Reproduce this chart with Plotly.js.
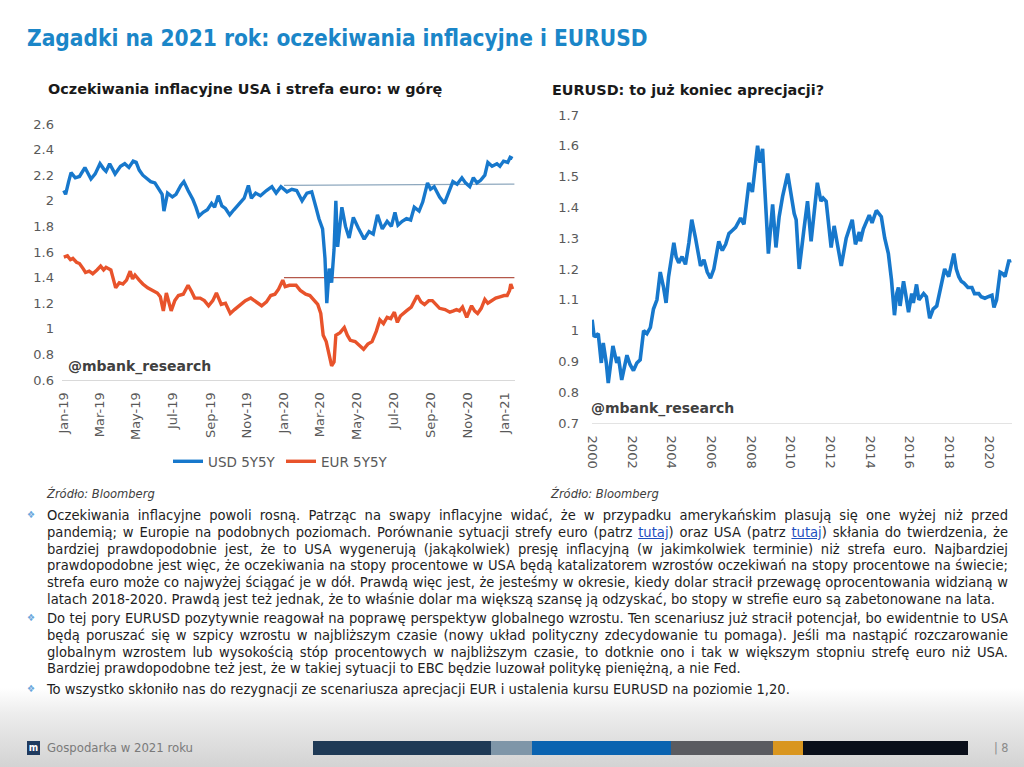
<!DOCTYPE html>
<html><head><meta charset="utf-8">
<script src="https://cdn.plot.ly/plotly-3.0.1.min.js"></script>
<style>
html,body{margin:0;padding:0;}
body{width:1024px;height:767px;position:relative;overflow:hidden;
 background:linear-gradient(to bottom,#ffffff 0px,#ffffff 688px,#ececec 715px,#d3d3d3 767px);
 font-family:"DejaVu Sans Condensed","DejaVu Sans",sans-serif;}
#chart{position:absolute;left:0;top:0;width:1024px;height:767px;}
.title{position:absolute;left:27px;top:25px;font-size:22.5px;font-weight:bold;color:#1b86c8;white-space:nowrap;}
.src{position:absolute;top:486px;font-size:12.8px;font-style:italic;color:#404040;}
.para{position:absolute;left:47px;width:961px;font-size:14.6px;line-height:16.8px;color:#1e1e1e;}
.para div{text-align:justify;text-align-last:justify;white-space:nowrap;}
.para div.last{text-align-last:left;}
.para a{color:#1f4fbf;text-decoration:underline;}
.bullet{position:absolute;left:27px;font-size:10px;color:#6aa6dc;}
.foot{position:absolute;top:740px;left:47px;font-size:13px;color:#7a7a7a;}
.logo{position:absolute;left:27px;top:741px;width:13px;height:14px;background:#1f3a5f;color:#fff;font-size:10px;font-weight:bold;line-height:13px;text-align:center;}
.seg{position:absolute;top:741px;height:14px;}
.pg{position:absolute;top:740px;left:994px;font-size:12.5px;color:#8a8a8a;}
</style>
</head><body>
<div id="chart"></div>
<div class="title">Zagadki na 2021 rok: oczekiwania inflacyjne i EURUSD</div>
<div class="src" style="left:47px;">Źródło: Bloomberg</div>
<div class="src" style="left:551px;">Źródło: Bloomberg</div>

<div class="bullet" style="top:509px;">❖</div>
<div class="para" style="top:507px;">
<div>Oczekiwania inflacyjne powoli rosną. Patrząc na swapy inflacyjne widać, że w przypadku amerykańskim plasują się one wyżej niż przed</div>
<div>pandemią; w Europie na podobnych poziomach. Porównanie sytuacji strefy euro (patrz <a>tutaj</a>) oraz USA (patrz <a>tutaj</a>) skłania do twierdzenia, że</div>
<div>bardziej prawdopodobnie jest, że to USA wygenerują (jakąkolwiek) presję inflacyjną (w jakimkolwiek terminie) niż strefa euro. Najbardziej</div>
<div>prawdopodobne jest więc, że oczekiwania na stopy procentowe w USA będą katalizatorem wzrostów oczekiwań na stopy procentowe na świecie;</div>
<div>strefa euro może co najwyżej ściągać je w dół. Prawdą więc jest, że jesteśmy w okresie, kiedy dolar stracił przewagę oprocentowania widzianą w</div>
<div class="last">latach 2018-2020. Prawdą jest też jednak, że to właśnie dolar ma większą szansę ją odzyskać, bo stopy w strefie euro są zabetonowane na lata.</div>
</div>
<div class="bullet" style="top:612px;">❖</div>
<div class="para" style="top:610px;">
<div>Do tej pory EURUSD pozytywnie reagował na poprawę perspektyw globalnego wzrostu. Ten scenariusz już stracił potencjał, bo ewidentnie to USA</div>
<div>będą poruszać się w szpicy wzrostu w najbliższym czasie (nowy układ polityczny zdecydowanie tu pomaga). Jeśli ma nastąpić rozczarowanie</div>
<div>globalnym wzrostem lub wysokością stóp procentowych w najbliższym czasie, to dotknie ono i tak w większym stopniu strefę euro niż USA.</div>
<div class="last">Bardziej prawdopodobne też jest, że w takiej sytuacji to EBC będzie luzował politykę pieniężną, a nie Fed.</div>
</div>
<div class="bullet" style="top:683px;">❖</div>
<div class="para" style="top:681px;">
<div class="last">To wszystko skłoniło nas do rezygnacji ze scenariusza aprecjacji EUR i ustalenia kursu EURUSD na poziomie 1,20.</div>
</div>

<div class="logo">m</div>
<div class="foot">Gospodarka w 2021 roku</div>
<div class="seg" style="left:313px;width:178px;background:#1f3a56;"></div>
<div class="seg" style="left:491px;width:41px;background:#7f96a8;"></div>
<div class="seg" style="left:532px;width:139px;background:#0a63b0;"></div>
<div class="seg" style="left:671px;width:102px;background:#5a5b60;"></div>
<div class="seg" style="left:773px;width:30px;background:#d9961f;"></div>
<div class="seg" style="left:803px;width:165px;background:#0a0f1a;"></div>
<div class="pg">| 8</div>

<script>
// ---- Left chart: inflation expectations 5Y5Y ----
const usdDates = ["2019-01-01","2019-01-04","2019-01-09","2019-01-13","2019-01-20","2019-01-27","2019-02-05","2019-02-10","2019-02-15","2019-02-22","2019-03-02","2019-03-08","2019-03-12","2019-03-18","2019-03-27","2019-04-05","2019-04-12","2019-04-19","2019-04-26","2019-05-01","2019-05-06","2019-05-12","2019-05-17","2019-05-25","2019-06-01","2019-06-08","2019-06-13","2019-06-16","2019-06-22","2019-06-30","2019-07-06","2019-07-14","2019-07-19","2019-07-26","2019-08-03","2019-08-08","2019-08-13","2019-08-20","2019-08-27","2019-09-03","2019-09-08","2019-09-14","2019-09-20","2019-09-26","2019-10-03","2019-10-10","2019-10-19","2019-10-27","2019-11-03","2019-11-08","2019-11-15","2019-11-23","2019-12-03","2019-12-12","2019-12-19","2019-12-27","2020-01-06","2020-01-14","2020-01-22","2020-01-31","2020-02-08","2020-02-16","2020-02-23","2020-02-28","2020-03-05","2020-03-09","2020-03-12","2020-03-16","2020-03-20","2020-03-24","2020-03-27","2020-03-30","2020-04-06","2020-04-12","2020-04-18","2020-04-25","2020-05-03","2020-05-13","2020-05-21","2020-05-28","2020-06-04","2020-06-12","2020-06-20","2020-06-27","2020-07-03","2020-07-08","2020-07-15","2020-07-22","2020-07-29","2020-08-04","2020-08-12","2020-08-18","2020-08-26","2020-08-31","2020-09-06","2020-09-15","2020-09-23","2020-10-01","2020-10-07","2020-10-14","2020-10-22","2020-10-28","2020-11-04","2020-11-10","2020-11-16","2020-11-22","2020-11-29","2020-12-04","2020-12-11","2020-12-19","2020-12-24","2020-12-30","2021-01-06","2021-01-10","2021-01-14"];
const usdValues = [2.08,2.05,2.15,2.22,2.18,2.19,2.26,2.22,2.17,2.21,2.29,2.25,2.23,2.29,2.21,2.27,2.29,2.26,2.31,2.30,2.24,2.20,2.18,2.15,2.14,2.09,2.05,1.92,2.06,2.03,2.05,2.12,2.15,2.08,2.01,1.95,1.88,1.91,1.93,1.98,1.95,2.04,1.96,1.94,1.89,1.93,1.98,2.02,2.12,2.02,2.06,2.04,2.08,2.11,2.06,2.11,2.07,2.09,2.08,2.00,2.06,2.07,1.95,1.86,1.78,1.55,1.20,1.47,1.36,1.62,2.00,1.64,1.95,1.80,1.71,1.87,1.79,1.70,1.76,1.74,1.89,1.78,1.84,1.80,1.91,1.81,1.84,1.86,1.85,1.95,1.92,1.99,2.14,2.09,2.11,2.03,1.98,2.07,2.15,2.13,2.18,2.14,2.11,2.18,2.14,2.16,2.20,2.30,2.27,2.29,2.27,2.31,2.30,2.34,2.33];

const eurDates = ["2019-01-01","2019-01-07","2019-01-12","2019-01-16","2019-01-22","2019-01-27","2019-02-02","2019-02-06","2019-02-12","2019-02-18","2019-02-25","2019-03-03","2019-03-08","2019-03-12","2019-03-20","2019-03-24","2019-03-28","2019-04-03","2019-04-09","2019-04-15","2019-04-21","2019-04-25","2019-04-29","2019-05-06","2019-05-12","2019-05-20","2019-05-29","2019-06-05","2019-06-10","2019-06-15","2019-06-20","2019-06-24","2019-06-28","2019-07-04","2019-07-10","2019-07-18","2019-07-26","2019-08-01","2019-08-06","2019-08-15","2019-08-22","2019-08-29","2019-09-05","2019-09-11","2019-09-19","2019-09-26","2019-10-04","2019-10-11","2019-10-21","2019-10-29","2019-11-07","2019-11-15","2019-11-25","2019-12-03","2019-12-10","2019-12-17","2019-12-23","2019-12-30","2020-01-03","2020-01-10","2020-01-21","2020-01-28","2020-02-06","2020-02-13","2020-02-20","2020-02-26","2020-03-02","2020-03-06","2020-03-11","2020-03-16","2020-03-20","2020-03-24","2020-03-27","2020-04-03","2020-04-10","2020-04-15","2020-04-20","2020-04-28","2020-05-06","2020-05-12","2020-05-19","2020-05-26","2020-06-02","2020-06-08","2020-06-14","2020-06-20","2020-06-26","2020-07-02","2020-07-07","2020-07-12","2020-07-22","2020-07-30","2020-08-09","2020-08-15","2020-08-21","2020-08-28","2020-09-03","2020-09-10","2020-09-15","2020-09-24","2020-10-02","2020-10-08","2020-10-13","2020-10-18","2020-10-23","2020-10-30","2020-11-07","2020-11-12","2020-11-17","2020-11-23","2020-11-29","2020-12-04","2020-12-11","2020-12-17","2020-12-24","2020-12-31","2021-01-05","2021-01-09","2021-01-11","2021-01-14"];
const eurValues = [1.56,1.57,1.54,1.55,1.52,1.51,1.47,1.44,1.45,1.43,1.46,1.49,1.46,1.48,1.46,1.40,1.32,1.36,1.35,1.38,1.45,1.39,1.42,1.38,1.35,1.32,1.30,1.28,1.25,1.14,1.28,1.20,1.14,1.22,1.26,1.27,1.34,1.29,1.24,1.24,1.22,1.18,1.22,1.28,1.19,1.20,1.12,1.15,1.19,1.22,1.24,1.21,1.18,1.21,1.26,1.27,1.31,1.38,1.33,1.34,1.34,1.30,1.27,1.26,1.22,1.19,1.12,0.95,0.90,0.80,0.71,0.74,0.95,0.97,1.01,0.95,0.91,0.90,0.87,0.84,0.88,0.90,0.98,1.07,1.04,1.09,1.08,1.13,1.05,1.10,1.14,1.17,1.26,1.21,1.19,1.22,1.22,1.19,1.16,1.15,1.13,1.14,1.15,1.14,1.17,1.09,1.18,1.14,1.12,1.16,1.23,1.20,1.22,1.24,1.25,1.26,1.26,1.30,1.35,1.31];

// Pre-pandemic reference levels (Jan 2020)
const usdRefDates = ["2020-01-01","2021-01-17"];
const usdRefValues = [2.12,2.13];
const eurRefDates = ["2020-01-01","2021-01-17"];
const eurRefValues = [1.40,1.40];

const leftSeriesNames = ["USD 5Y5Y","EUR 5Y5Y"];

// ---- Right chart: EURUSD ----
const fxDates = ["2000-01-03","2000-02-10","2000-04-25","2000-06-20","2000-07-26","2000-09-20","2000-10-26","2001-01-20","2001-04-01","2001-04-30","2001-07-01","2001-10-05","2001-12-01","2002-02-02","2002-04-05","2002-06-05","2002-08-08","2002-10-08","2002-12-10","2003-02-05","2003-04-10","2003-06-10","2003-08-10","2003-09-25","2003-11-10","2004-02-15","2004-03-28","2004-05-15","2004-07-15","2004-09-16","2004-11-18","2005-01-10","2005-03-20","2005-06-20","2005-08-22","2005-10-22","2005-12-20","2006-02-20","2006-05-22","2006-07-26","2006-09-25","2006-11-25","2007-01-26","2007-03-28","2007-06-28","2007-08-28","2007-11-28","2008-01-30","2008-05-05","2008-06-18","2008-08-05","2008-11-20","2009-02-06","2009-04-08","2009-06-06","2009-08-08","2009-11-10","2010-01-12","2010-03-10","2010-04-15","2010-06-10","2010-09-06","2010-11-10","2011-01-15","2011-05-10","2011-07-15","2011-08-25","2011-10-19","2012-01-19","2012-03-14","2012-05-10","2012-07-23","2012-10-22","2013-02-10","2013-04-10","2013-06-20","2013-07-10","2013-09-02","2013-12-20","2014-02-10","2014-04-30","2014-07-30","2014-10-01","2014-12-07","2015-02-02","2015-03-29","2015-05-10","2015-06-10","2015-07-10","2015-09-12","2015-10-20","2015-12-13","2016-02-10","2016-03-10","2016-05-08","2016-06-20","2016-09-16","2016-11-05","2017-01-05","2017-03-10","2017-05-15","2017-07-08","2017-10-08","2017-12-21","2018-03-26","2018-05-10","2018-06-25","2018-08-10","2018-09-24","2018-12-10","2019-02-21","2019-04-10","2019-06-28","2019-08-10","2019-10-19","2019-12-20","2020-02-25","2020-04-02","2020-05-20","2020-07-24","2020-09-10","2020-10-23","2020-12-10","2021-01-06","2021-01-22"];
const fxValues = [1.035,0.98,0.99,0.895,0.96,0.895,0.83,0.95,0.895,0.915,0.84,0.92,0.89,0.87,0.895,0.905,1.00,0.99,1.01,1.07,1.10,1.19,1.14,1.09,1.175,1.285,1.24,1.22,1.24,1.215,1.285,1.36,1.30,1.21,1.23,1.19,1.17,1.20,1.29,1.26,1.28,1.315,1.325,1.335,1.365,1.345,1.48,1.45,1.60,1.545,1.59,1.25,1.41,1.27,1.37,1.435,1.51,1.435,1.38,1.36,1.20,1.33,1.42,1.29,1.48,1.42,1.43,1.42,1.27,1.34,1.28,1.21,1.30,1.36,1.28,1.32,1.29,1.33,1.375,1.35,1.39,1.37,1.30,1.25,1.165,1.05,1.12,1.14,1.08,1.16,1.12,1.06,1.12,1.09,1.15,1.10,1.12,1.11,1.04,1.07,1.08,1.13,1.20,1.175,1.25,1.20,1.175,1.16,1.155,1.14,1.14,1.12,1.12,1.11,1.105,1.11,1.115,1.075,1.10,1.19,1.185,1.175,1.21,1.23,1.22];

const leftTicks = ["2019-01-01","2019-03-01","2019-05-01","2019-07-01","2019-09-01","2019-11-01","2020-01-01","2020-03-01","2020-05-01","2020-07-01","2020-09-01","2020-11-01","2021-01-01"];
const leftTickText = ["Jan-19","Mar-19","May-19","Jul-19","Sep-19","Nov-19","Jan-20","Mar-20","May-20","Jul-20","Sep-20","Nov-20","Jan-21"];

const BLUE = "#1778cc", RED = "#e8532b", GREY = "#595959";
const W = 1024, H = 767;
const px = p => p / W, py = p => 1 - p / H;
const tickFont = {family:"DejaVu Sans, sans-serif", size:13, color:GREY};

const traces = [
  {x:usdRefDates, y:usdRefValues, xaxis:"x", yaxis:"y", mode:"lines", line:{color:"#8ea8be", width:1.2}, showlegend:false, hoverinfo:"skip"},
  {x:eurRefDates, y:eurRefValues, xaxis:"x", yaxis:"y", mode:"lines", line:{color:"#b4584a", width:1.2}, showlegend:false, hoverinfo:"skip"},
  {x:usdDates, y:usdValues, name:leftSeriesNames[0], xaxis:"x", yaxis:"y", mode:"lines", line:{color:BLUE, width:3.4}},
  {x:eurDates, y:eurValues, name:leftSeriesNames[1], xaxis:"x", yaxis:"y", mode:"lines", line:{color:RED, width:3.4}},
  {x:fxDates, y:fxValues, name:"EURUSD", xaxis:"x2", yaxis:"y2", mode:"lines", line:{color:BLUE, width:3.6}, showlegend:false}
];

const layout = {
  width:W, height:H, margin:{l:0,r:0,t:0,b:0},
  paper_bgcolor:"rgba(0,0,0,0)", plot_bgcolor:"rgba(0,0,0,0)",
  font:{family:"DejaVu Sans, sans-serif", color:GREY},
  showlegend:true,
  legend:{orientation:"h", x:px(168), y:py(446), xanchor:"left", yanchor:"top",
          font:{family:"DejaVu Sans, sans-serif", size:13.5, color:GREY},
          bgcolor:"rgba(0,0,0,0)", entrywidth:68, itemwidth:30},
  xaxis:{domain:[px(62),px(515)], type:"date", range:["2018-12-29","2021-01-18"],
         tickmode:"array", tickvals:leftTicks, ticktext:leftTickText, tickangle:-90,
         tickfont:tickFont, showgrid:false, zeroline:false, showline:true, linecolor:"#d9d9d9", linewidth:1,
         ticks:"", ticklabelstandoff:6, anchor:"y"},
  yaxis:{domain:[py(380),py(124)], range:[0.6,2.6], dtick:0.2, tick0:0.6,
         tickfont:tickFont, showgrid:false, zeroline:false, showline:false, ticks:"", ticklabelstandoff:7, anchor:"x"},
  xaxis2:{domain:[px(592),px(1012)], type:"date", range:["2000-01-01","2021-02-28"],
          dtick:"M24", tick0:"2000-01-01", tickformat:"%Y", tickangle:90,
          tickfont:tickFont, showgrid:false, zeroline:false, showline:true, linecolor:"#e3e3e3", linewidth:1,
          ticks:"", ticklabelstandoff:9, anchor:"y2"},
  yaxis2:{domain:[py(423),py(115)], range:[0.7,1.7], dtick:0.1, tick0:0.7,
          tickfont:tickFont, showgrid:false, zeroline:false, showline:false, ticks:"", ticklabelstandoff:12, anchor:"x2"},
  annotations:[
    {xref:"paper", yref:"paper", x:px(46), y:py(89), xanchor:"left", yanchor:"middle", showarrow:false,
     text:"<b>Oczekiwania inflacyjne USA i strefa euro: w górę</b>", font:{family:"DejaVu Sans, sans-serif", size:14.4, color:"#1a1a1a"}},
    {xref:"paper", yref:"paper", x:px(550), y:py(90), xanchor:"left", yanchor:"middle", showarrow:false,
     text:"<b>EURUSD: to już koniec aprecjacji?</b>", font:{family:"DejaVu Sans, sans-serif", size:14.4, color:"#1a1a1a"}},
    {xref:"paper", yref:"paper", x:px(66), y:py(366), xanchor:"left", yanchor:"middle", showarrow:false,
     text:"<b>@mbank_research</b>", font:{family:"DejaVu Sans, sans-serif", size:14, color:"#404040"}},
    {xref:"paper", yref:"paper", x:px(589), y:py(408), xanchor:"left", yanchor:"middle", showarrow:false,
     text:"<b>@mbank_research</b>", font:{family:"DejaVu Sans, sans-serif", size:14, color:"#404040"}}
  ]
};

Plotly.newPlot("chart", traces, layout, {displayModeBar:false, staticPlot:true});

// keep each justified text line within its box
document.querySelectorAll(".para div").forEach(el => {
  if (el.scrollWidth > el.clientWidth + 1) {
    const n = el.textContent.length;
    el.style.letterSpacing = ((el.clientWidth - el.scrollWidth) / n) + "px";
  }
});
</script>
</body></html>
